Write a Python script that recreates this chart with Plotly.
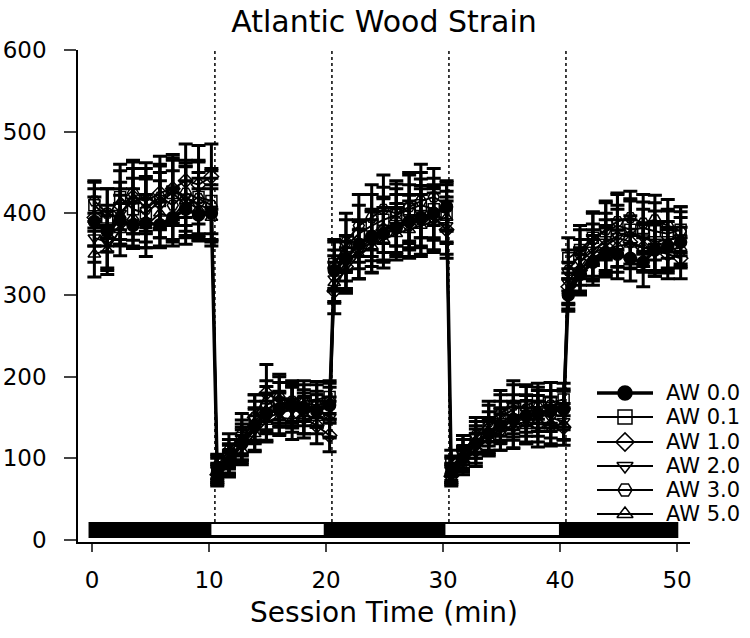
import plotly.graph_objects as go

# Session time (min) for each bin
TIME = [0.2, 1.3, 2.4, 3.5, 4.6, 5.8, 6.9, 8.0, 9.1, 10.2,
        10.7, 11.7, 12.8, 13.9, 14.9, 16.0, 17.1, 18.1, 19.2, 20.3,
        20.7, 21.7, 22.8, 23.9, 24.9, 26.0, 27.1, 28.1, 29.2, 30.3,
        30.7, 31.7, 32.8, 33.9, 34.9, 36.0, 37.1, 38.1, 39.2, 40.3,
        40.7, 41.7, 42.8, 43.9, 44.9, 46.0, 47.1, 48.1, 49.2, 50.3]

NAMES = ["AW 0.0", "AW 0.1", "AW 1.0", "AW 2.0", "AW 3.0", "AW 5.0"]
SYMBOLS = ["circle", "square-open", "diamond-open", "triangle-down-open",
           "hexagon2-open", "triangle-up-open"]

AW_00 = [390, 378, 392, 385, 388, 386, 395, 405, 398, 400,
         82, 95, 118, 140, 155, 160, 165, 162, 158, 165,
         330, 345, 362, 372, 375, 382, 390, 395, 400, 408,
         82, 100, 118, 130, 140, 148, 152, 155, 158, 160,
         300, 325, 340, 352, 350, 345, 340, 355, 360, 365]
AW_01 = [410, 395, 420, 405, 400, 415, 425, 410, 420, 415,
         88, 105, 125, 145, 160, 168, 165, 170, 172, 175,
         338, 360, 375, 385, 392, 398, 405, 410, 405, 400,
         95, 110, 125, 140, 150, 160, 165, 170, 168, 172,
         345, 355, 370, 378, 385, 380, 382, 378, 375, 380]
AW_10 = [395, 370, 410, 420, 415, 425, 430, 440, 435, 445,
         80, 100, 120, 150, 180, 170, 165, 150, 140, 128,
         305, 335, 355, 370, 380, 390, 385, 392, 395, 380,
         78, 95, 110, 125, 135, 140, 145, 142, 140, 138,
         310, 330, 350, 360, 370, 365, 358, 355, 350, 345]
AW_20 = [370, 365, 400, 415, 420, 410, 430, 420, 410, 405,
         85, 98, 115, 135, 150, 155, 160, 155, 160, 150,
         320, 340, 355, 365, 380, 385, 395, 400, 392, 385,
         85, 105, 120, 132, 145, 150, 148, 155, 150, 145,
         315, 340, 355, 365, 372, 378, 370, 365, 368, 370]
AW_30 = [415, 400, 395, 425, 405, 420, 410, 425, 418, 410,
         90, 110, 130, 150, 165, 175, 170, 168, 165, 170,
         335, 365, 385, 395, 405, 400, 408, 415, 420, 410,
         88, 108, 128, 145, 155, 165, 160, 162, 165, 160,
         330, 350, 368, 380, 390, 395, 388, 392, 385, 378]
AW_50 = [350, 355, 380, 395, 385, 400, 395, 415, 405, 395,
         78, 92, 110, 130, 145, 150, 148, 152, 150, 148,
         315, 330, 350, 360, 368, 375, 380, 385, 390, 395,
         80, 98, 112, 125, 132, 138, 140, 145, 140, 142,
         305, 330, 345, 355, 360, 362, 358, 360, 355, 358]

ERR_00 = [30, 25, 30, 28, 30, 28, 30, 35, 32, 35,
          12, 15, 20, 22, 25, 22, 25, 22, 20, 22,
          25, 28, 30, 30, 32, 30, 32, 35, 30, 30,
          12, 15, 18, 20, 22, 22, 25, 22, 25, 22,
          20, 25, 28, 30, 30, 28, 30, 32, 30, 30]
ERR_01 = [28, 35, 40, 38, 42, 45, 40, 48, 45, 40,
          15, 18, 22, 25, 28, 25, 22, 25, 22, 20,
          30, 32, 35, 38, 40, 38, 42, 40, 38, 35,
          15, 18, 20, 25, 28, 30, 25, 22, 25, 20,
          25, 30, 32, 35, 38, 35, 32, 35, 30, 28]
ERR_10 = [35, 40, 42, 45, 40, 45, 42, 45, 48, 40,
          12, 18, 22, 28, 35, 30, 28, 25, 22, 20,
          28, 30, 35, 35, 38, 40, 38, 42, 40, 35,
          12, 15, 20, 22, 25, 28, 25, 28, 25, 22,
          22, 28, 30, 32, 35, 32, 30, 32, 30, 25]
ERR_20 = [30, 32, 38, 40, 42, 40, 38, 42, 40, 38,
          15, 18, 20, 25, 28, 25, 28, 25, 22, 25,
          28, 32, 35, 38, 40, 38, 40, 42, 40, 35,
          15, 18, 20, 25, 25, 28, 30, 28, 25, 22,
          25, 28, 32, 35, 38, 40, 35, 38, 35, 32]
ERR_30 = [25, 30, 35, 38, 40, 38, 42, 40, 45, 42,
          15, 20, 25, 28, 30, 28, 25, 22, 25, 22,
          30, 35, 38, 40, 42, 40, 42, 45, 35, 30,
          15, 20, 22, 25, 28, 30, 28, 25, 28, 25,
          25, 30, 32, 35, 35, 32, 35, 30, 32, 30]
ERR_50 = [28, 30, 32, 35, 38, 40, 35, 42, 38, 35,
          12, 15, 18, 22, 25, 22, 25, 22, 20, 22,
          25, 28, 30, 32, 35, 32, 35, 38, 35, 32,
          12, 15, 18, 20, 22, 25, 22, 25, 22, 20,
          22, 25, 28, 30, 32, 30, 28, 30, 28, 25]

VALUES = [AW_00, AW_01, AW_10, AW_20, AW_30, AW_50]
ERRORS = [ERR_00, ERR_01, ERR_10, ERR_20, ERR_30, ERR_50]

X_TICKS = [0, 10, 20, 30, 40, 50]
Y_TICKS = [0, 100, 200, 300, 400, 500, 600]
PHASE_LINES = [10.5, 20.5, 30.5, 40.5]
WHITE_PHASES = [(10.2, 19.8), (30.2, 39.9)]

FONT = "DejaVu Sans"

# plot area in pixels
L, R, T, B = 78, 690, 50, 542
W, H = 750, 638

fig = go.Figure()
for i in range(6):
    fig.add_trace(go.Scatter(
        x=TIME, y=VALUES[i], name=NAMES[i], mode="lines+markers",
        line=dict(color="black", width=3.5 if i == 0 else 2),
        marker=dict(symbol=SYMBOLS[i], size=12 if i == 0 else 11, color="black",
                    line=dict(color="black", width=1.5)),
        error_y=dict(type="data", array=ERRORS[i], color="black",
                     thickness=3, width=7),
        cliponaxis=False, showlegend=False,
    ))

# hand-built legend on a pixel-space overlay axis
LEG_LINE_X = (597, 653)
LEG_TEXT_X = 664
LEG_ROW_Y = [393, 417, 442, 466, 490, 514]
annotations = []
for i in range(6):
    ry = LEG_ROW_Y[i]
    fig.add_trace(go.Scatter(
        x=list(LEG_LINE_X), y=[ry, ry], mode="lines", xaxis="x2", yaxis="y2",
        line=dict(color="black", width=3.5 if i == 0 else 2),
        showlegend=False, hoverinfo="skip", cliponaxis=False))
    fig.add_trace(go.Scatter(
        x=[(LEG_LINE_X[0] + LEG_LINE_X[1]) / 2], y=[ry], mode="markers",
        xaxis="x2", yaxis="y2",
        marker=dict(symbol=SYMBOLS[i], size=14, color="black",
                    line=dict(color="black", width=1.5)),
        showlegend=False, hoverinfo="skip", cliponaxis=False))
    annotations.append(dict(x=LEG_TEXT_X, y=ry, xref="x2", yref="y2", text=NAMES[i],
                            showarrow=False, xanchor="left", yanchor="middle",
                            font=dict(family=FONT, size=21, color="black")))

shapes = []
for xl in PHASE_LINES:
    shapes.append(dict(type="line", xref="x", yref="y", x0=xl, x1=xl, y0=22, y1=600,
                       line=dict(color="black", width=1.5, dash="dot")))
shapes.append(dict(type="rect", xref="x", yref="y", x0=-0.3, x1=50.1, y0=2.4, y1=22,
                   fillcolor="black", line=dict(width=0), layer="above"))
for (a, b) in WHITE_PHASES:
    shapes.append(dict(type="rect", xref="x", yref="y", x0=a, x1=b, y0=6, y1=19.6,
                       fillcolor="white", line=dict(width=0), layer="above"))

fig.update_layout(
    width=W, height=H,
    margin=dict(l=L, r=W - R, t=T, b=H - B),
    paper_bgcolor="white", plot_bgcolor="white",
    font=dict(family=FONT, color="black"),
    title=dict(text="Atlantic Wood Strain", x=0.512, xanchor="center",
               y=1 - 21 / H, yanchor="middle", yref="container",
               font=dict(family=FONT, size=30, color="black")),
    showlegend=False,
    shapes=shapes,
    annotations=annotations,
    xaxis2=dict(overlaying="x", range=[L, R], visible=False, fixedrange=True),
    yaxis2=dict(overlaying="y", range=[B, T], visible=False, fixedrange=True),
)
fig.layout.xaxis.update(range=[-1.2, 51.1], tickvals=X_TICKS, ticks="outside", ticklen=8,
                        tickwidth=1.5, showline=True, linecolor="black", linewidth=1.5,
                        showgrid=False, zeroline=False, tickfont=dict(size=23),
                        ticklabelstandoff=9, automargin=False,
                        title=dict(text="Session Time (min)", font=dict(size=28), standoff=10))
fig.layout.yaxis.update(range=[-2.45, 600], tickvals=Y_TICKS, ticks="outside", ticklen=12,
                        tickwidth=1.5, showline=True, linecolor="black", linewidth=1.5,
                        showgrid=False, zeroline=False, tickfont=dict(size=23),
                        ticklabelstandoff=13, automargin=False)

fig.write_html("out.html", config={"displayModeBar": False},
               post_script="document.body.style.margin='0';")
